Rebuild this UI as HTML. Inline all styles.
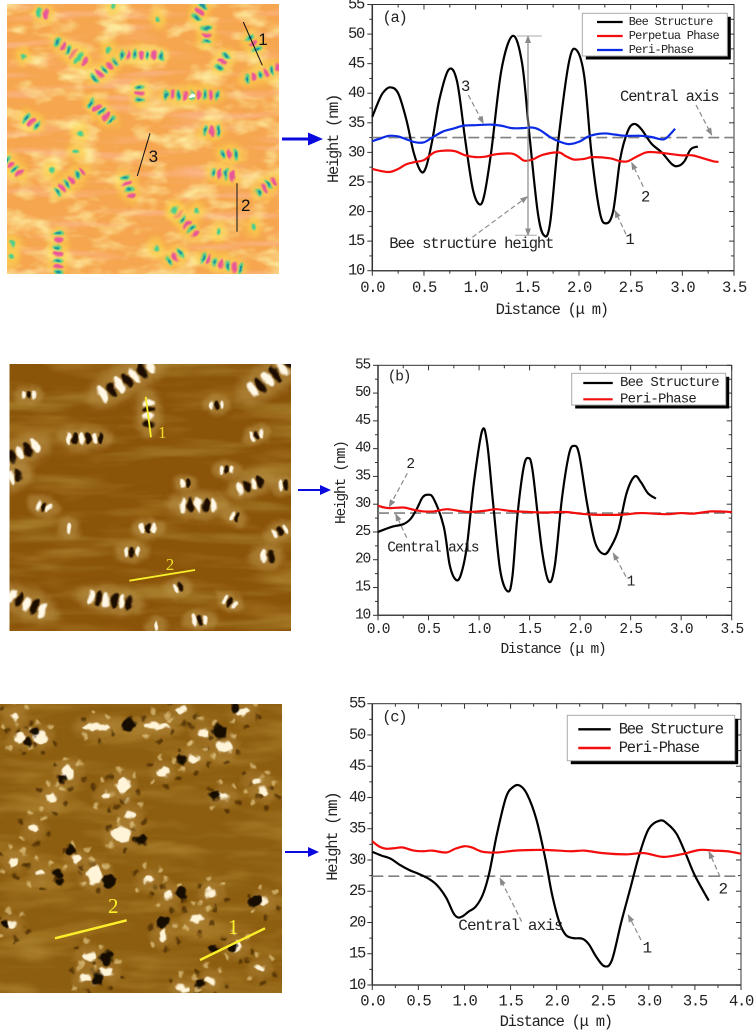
<!DOCTYPE html>
<html lang="en">
<head>
<meta charset="utf-8">
<title>Bee structure AFM images and height profiles</title>
<style>
html,body{margin:0;padding:0;background:#fff;}
svg{display:block;}
text{font-family:"Liberation Mono","Noto Sans CJK SC",monospace;fill:#222;}
</style>
</head>
<body>
<svg id="figure" xmlns="http://www.w3.org/2000/svg" width="754" height="1032" viewBox="0 0 754 1032">
<defs>
<filter id="texYellow" x="0" y="0" width="100%" height="100%"><feTurbulence type="fractalNoise" baseFrequency="0.03 0.06" numOctaves="3" seed="4"/><feColorMatrix values="0 0 0 0 .98  0 0 0 0 .8  0 0 0 0 .32  3 0 0 0 -1.4"/></filter>
<filter id="texPink" x="0" y="0" width="100%" height="100%"><feTurbulence type="fractalNoise" baseFrequency="0.012 0.1" numOctaves="2" seed="11"/><feColorMatrix values="0 0 0 0 .98  0 0 0 0 .5  0 0 0 0 .36  2.6 0 0 0 -1.3"/></filter>
<filter id="texDark" x="0" y="0" width="100%" height="100%"><feTurbulence type="fractalNoise" baseFrequency="0.008 0.06" numOctaves="3" seed="7"/><feColorMatrix values="0 0 0 0 .36  0 0 0 0 .19  0 0 0 0 .02  3.4 0 0 0 -1.65"/></filter>
<filter id="texLight" x="0" y="0" width="100%" height="100%"><feTurbulence type="fractalNoise" baseFrequency="0.012 0.05" numOctaves="3" seed="21"/><feColorMatrix values="0 0 0 0 .72  0 0 0 0 .47  0 0 0 0 .1  3 0 0 0 -1.5"/></filter>
<filter id="warp" x="-5%" y="-5%" width="110%" height="110%" color-interpolation-filters="sRGB"><feTurbulence type="fractalNoise" baseFrequency="0.09" numOctaves="2" seed="3" result="n"/><feDisplacementMap in="SourceGraphic" in2="n" scale="6" xChannelSelector="R" yChannelSelector="G"/></filter>
<filter id="warpHard" x="-5%" y="-5%" width="110%" height="110%" color-interpolation-filters="sRGB"><feTurbulence type="fractalNoise" baseFrequency="0.11" numOctaves="2" seed="9" result="n"/><feDisplacementMap in="SourceGraphic" in2="n" scale="8" xChannelSelector="R" yChannelSelector="G"/></filter>
<filter id="soft" x="-20%" y="-20%" width="140%" height="140%"><feGaussianBlur stdDeviation="0.7"/></filter>
<filter id="halo" x="-40%" y="-40%" width="180%" height="180%"><feGaussianBlur stdDeviation="3"/></filter>
<clipPath id="clipA"><rect x="7" y="4" width="272" height="270"/></clipPath>
<clipPath id="clipB"><rect x="9.5" y="364" width="281.5" height="267"/></clipPath>
<clipPath id="clipC"><rect x="0" y="704" width="282" height="289"/></clipPath>
<marker id="grayHead" markerWidth="8" markerHeight="8" refX="7" refY="3" orient="auto" markerUnits="userSpaceOnUse" viewBox="0 0 8 6"><path d="M0 0L8 3L0 6Z" fill="#8a8a8a"/></marker>
<marker id="grayHeadStart" markerWidth="8" markerHeight="8" refX="1" refY="3" orient="auto" markerUnits="userSpaceOnUse" viewBox="0 0 8 6"><path d="M8 0L0 3L8 6Z" fill="#8a8a8a"/></marker>
</defs>

<g clip-path="url(#clipA)">
  <rect x="7" y="4" width="272" height="270" fill="#f6a64e"/>
  <rect x="7" y="4" width="272" height="270" filter="url(#texPink)" opacity=".7"/>
  <rect x="7" y="4" width="272" height="270" filter="url(#texYellow)"/>
  <g id="imageA" filter="url(#warp)"></g>
</g>
<g clip-path="url(#clipB)">
  <rect x="9.5" y="364" width="281.5" height="267" fill="#8a5409"/>
  <rect x="9.5" y="364" width="281.5" height="267" filter="url(#texDark)" opacity=".8"/>
  <rect x="9.5" y="364" width="281.5" height="267" filter="url(#texLight)" opacity=".22"/>
  <g id="imageB" filter="url(#warp)"></g>
</g>
<g clip-path="url(#clipC)">
  <rect x="0" y="704" width="282" height="289" fill="#8d5e10"/>
  <rect x="0" y="704" width="282" height="289" filter="url(#texDark)" opacity=".6"/>
  <rect x="0" y="704" width="282" height="289" filter="url(#texLight)" opacity=".3"/>
  <g id="imageC" filter="url(#warpHard)"></g>
</g>
<g id="imageOverlay">
  <line x1="243.3" y1="22" x2="262.3" y2="65.3" stroke="#111" stroke-width="1"/>
  <line x1="237" y1="183.3" x2="237" y2="231.7" stroke="#111" stroke-width="1"/>
  <line x1="150" y1="133.3" x2="137.3" y2="176" stroke="#111" stroke-width="1"/>
  <text x="263" y="45" text-anchor="middle" style='font-family:"Liberation Sans",sans-serif;font-size:17px;fill:#111'>1</text>
  <text x="245.7" y="211" text-anchor="middle" style='font-family:"Liberation Sans",sans-serif;font-size:17px;fill:#111'>2</text>
  <text x="153.3" y="162" text-anchor="middle" style='font-family:"Liberation Sans",sans-serif;font-size:17px;fill:#111'>3</text>
  <line x1="145.7" y1="396.7" x2="151" y2="437.3" stroke="#f7ee2a" stroke-width="1.8"/>
  <line x1="129.3" y1="580.7" x2="195" y2="570" stroke="#f7ee2a" stroke-width="1.8"/>
  <text x="162.3" y="438" text-anchor="middle" style='font-family:"Liberation Serif",serif;font-size:17px;fill:#eedd2a'>1</text>
  <text x="170" y="570" text-anchor="middle" style='font-family:"Liberation Serif",serif;font-size:17px;fill:#eedd2a'>2</text>
  <line x1="200" y1="960" x2="265" y2="928.3" stroke="#fdf02a" stroke-width="2.4"/>
  <line x1="55" y1="938.3" x2="126.7" y2="920.3" stroke="#fdf02a" stroke-width="2.4"/>
  <text x="233.3" y="934" text-anchor="middle" style='font-family:"Liberation Serif",serif;font-size:21px;fill:#fdf02a'>1</text>
  <text x="113.3" y="913" text-anchor="middle" style='font-family:"Liberation Serif",serif;font-size:21px;fill:#fdf02a'>2</text>
</g>

<g id="linkArrows">
  <path d="M282 137.5H308V132.5L323 139L308 145.5V140.5H282Z" fill="#0a0adf"/>
  <path d="M298 489H320V485L331 490L320 495V491H298Z" fill="#0a0adf"/>
  <path d="M285 851H308V847L319 852L308 857V853H285Z" fill="#0a0adf"/>
</g>

<g id="chartA"></g>
<g id="chartB"></g>
<g id="chartC"></g>
</svg>

<script>
/* ---------- chart data ---------- */
const yTickValues = [10, 15, 20, 25, 30, 35, 40, 45, 50, 55];
const xTickValues35 = [0, 0.5, 1, 1.5, 2, 2.5, 3, 3.5];
const xTickValues40 = [0, 0.5, 1, 1.5, 2, 2.5, 3, 3.5, 4];

const beeDistA = [0,0.05,0.1,0.17,0.25,0.33,0.4,0.47,0.52,0.58,0.65,0.74,0.82,0.9,0.97,1.03,1.08,1.15,1.25,1.36,1.45,1.52,1.6,1.66,1.72,1.8,1.9,1.97,2.05,2.12,2.2,2.26,2.33,2.4,2.47,2.53,2.6,2.7,2.8,2.9,2.96,3.02,3.08,3.15];
const beeHeightA = [36,38.2,40,41,40,35.5,30,26.8,27.5,32,39,44,42,32,24,21.3,22.5,30,44,49.7,45,33,20,16,18,32,45,47.4,43,30,20,18,20,29,33.5,34.8,34,31.5,30,28,27.7,28.5,30.5,31];
const perpDistA = [0,0.1,0.17,0.25,0.33,0.42,0.5,0.6,0.7,0.8,0.9,1,1.1,1.2,1.35,1.42,1.47,1.55,1.65,1.8,1.87,1.95,2.05,2.13,2.3,2.4,2.47,2.55,2.65,2.75,2.9,3,3.1,3.2,3.3,3.35];
const perpHeightA = [27.2,26.8,26.7,27.2,28,28.4,28.7,30,30.3,30.2,29.5,29.2,29.3,29.7,29.8,29.2,28.6,28.8,29.6,30,29.4,28.8,28.9,29.2,29,28.5,28.5,29.2,30,30,29.7,29.5,29.5,29,28.5,28.4];
const periDistA = [0,0.07,0.16,0.25,0.33,0.42,0.5,0.58,0.68,0.78,0.88,1,1.15,1.25,1.35,1.45,1.55,1.62,1.72,1.8,1.9,2,2.08,2.15,2.25,2.35,2.45,2.6,2.7,2.8,2.85,2.93];
const periHeightA = [31.9,32.3,32.8,32.7,32.2,31.7,31.7,32.5,33.5,34,34.5,34.6,34.7,34.5,34.1,34.1,34.2,33.8,32.6,31.9,31.4,31.8,32.6,33,33.2,33,32.8,32.8,32.6,32.2,32.5,34];
const centralA = [32.5];

const beeDistB = [0,0.07,0.15,0.25,0.32,0.38,0.44,0.49,0.55,0.65,0.71,0.77,0.82,0.88,0.95,1.03,1.08,1.14,1.21,1.285,1.33,1.38,1.44,1.485,1.53,1.62,1.69,1.75,1.82,1.89,1.94,1.99,2.07,2.15,2.24,2.31,2.38,2.46,2.54,2.6,2.67,2.75];
const beeHeightB = [25,25.5,26,26.4,27.3,29,31.2,31.7,31,26,19,16.4,17.3,22.5,34,43.2,41,30,18,14.3,17,28,36.5,38.3,36,22,16.1,19,31,39,40.5,39,30,23,21,22.5,25.5,32,35,34,32,31];
const periDistB = [0,0.1,0.25,0.35,0.45,0.55,0.68,0.8,0.9,1.05,1.17,1.3,1.5,1.65,1.85,2,2.15,2.4,2.6,2.85,3,3.12,3.3,3.5];
const periHeightB = [29.7,29.3,29.4,29,28.7,28.7,29.1,28.8,28.6,28.8,29.1,28.8,28.6,28.5,28.6,28.3,28.1,28.1,28.4,28.2,28.4,28.3,28.7,28.6];
const centralB = [28.4];

const beeDistC = [0,0.1,0.2,0.3,0.4,0.5,0.6,0.7,0.8,0.88,0.93,0.98,1.05,1.12,1.2,1.27,1.35,1.45,1.53,1.6,1.68,1.78,1.88,1.95,2.03,2.1,2.18,2.28,2.35,2.43,2.52,2.6,2.7,2.8,2.9,3,3.12,3.2,3.3,3.4,3.5,3.65];
const beeHeightC = [31.3,30.7,30.2,29.2,28.4,27.8,27.1,26,24,21.5,20.8,21,21.8,22.5,24.5,28,34,40,41.7,41.9,40.5,36.5,30,24.5,20,18,17.5,17.4,16.5,14.5,13,14,20,25.5,31,35,36.3,35.8,34.2,31,27.5,23.5];
const periDistC = [0,0.07,0.15,0.25,0.33,0.45,0.55,0.65,0.8,0.9,1,1.08,1.2,1.35,1.55,1.75,1.9,2.15,2.3,2.5,2.75,2.95,3.15,3.35,3.55,3.7,3.85,4];
const periHeightC = [33,32.2,31.8,31.9,32,31.5,31.4,31.5,31.2,31.8,32.2,32,31.3,31.2,31.5,31.6,31.6,31.4,31.5,31.1,30.9,31.1,30.5,30.9,31.6,31.5,31.4,31];
const centralC = [27.4];

/* ---------- image blob content (not chart data) ---------- */
const clustersA = [[600,35,-65,3],[620,105,90,3],[760,130,60,3],[670,185,-60,3],[790,220,-20,6],[130,40,0,2],[205,150,35,5],[245,180,30,2],[315,210,-40,5],[425,165,0,7],[325,148,0,1],[420,280,90,3],[575,285,0,9],[305,335,40,5],[95,365,30,3],[635,393,0,3],[690,462,0,3],[228,455,90,1],[40,500,50,4],[210,545,-40,6],[385,560,70,4],[670,522,10,4],[800,560,-40,4],[555,665,50,6],[760,680,0,1],[175,760,90,7],[525,770,-35,3],[665,790,15,7],[40,730,0,1],[470,745,0,1],[35,770,0,1],[155,510,0,1],[655,695,0,1],[240,400,0,1],[70,170,0,1],[590,630,0,1],[525,630,0,1],[475,55,0,1],[340,18,0,1]];
const clustersB = [[380,75,-30,7,1.3],[815,65,-35,6,1.3],[85,120,0,3,.7],[445,175,90,4,1],[650,150,0,3,.7],[255,250,0,6,.9],[770,240,-20,3,.7],[60,295,-25,5,1.2],[45,365,-20,2,1],[680,345,0,3,.7],[555,385,0,2,.7],[750,390,-20,4,1],[850,390,0,2,.8],[595,450,0,5,1.1],[130,455,20,3,.8],[205,520,0,1,.8],[445,520,0,3,.8],[705,485,20,2,.7],[840,530,-20,3,.8],[395,590,0,3,.8],[800,605,0,2,1],[80,745,25,5,1.2],[330,735,10,6,1.1],[535,700,-15,2,.8],[690,740,30,3,.7],[600,795,0,3,.8],[470,815,0,1,.8]];
const darkDotsC = [[385,90,7],[660,110,7],[545,195,5],[105,110,4],[85,140,4],[185,250,4],[645,300,5],[425,435,6],[210,463,5],[170,535,5],[180,560,4],[325,560,6],[545,595,6],[765,618,6],[490,682,6],[320,790,7],[295,850,6],[600,865,5],[705,40,5],[15,690,4],[700,755,4],[640,760,4]];
const lightBlobsC = [[290,95,17,5],[470,92,17,4],[545,45,6,4],[730,50,8,5],[610,115,7,5],[670,155,10,8],[580,190,7,6],[205,235,8,9],[120,125,8,8],[60,130,6,6],[370,270,7,9],[155,310,6,7],[390,360,6,6],[365,420,13,9],[230,490,6,5],[285,540,10,11],[505,600,6,6],[635,595,6,7],[790,290,6,5],[670,305,7,4],[790,620,6,5],[590,670,7,6],[490,720,6,7],[35,690,6,5],[270,785,9,5],[255,850,7,5],[320,830,8,5],[780,820,6,4],[710,755,6,6],[45,65,5,4],[490,230,7,5],[770,260,7,4],[320,300,6,4],[100,400,6,5],[40,500,6,5],[120,535,6,4],[445,555,6,4],[550,880,8,4],[630,855,6,5]];
const speckleOffsets = [[-13,-8,1],[11,-10,0],[15,6,1],[-11,10,0],[3,15,1],[-3,-15,0]];

const SVGNS = 'http://www.w3.org/2000/svg';

function mk(tag, parent) {
  const el = document.createElementNS(SVGNS, tag);
  parent.appendChild(el);
  return el;
}

/* ---------- image painting ---------- */
function paintClusterA(parent, c) {
  const cx = 7 + (c[0] - 22) / 3, cy = c[1] / 3;
  const g = mk('g', parent);
  
  
  g.setAttribute('transform', 'translate(' + cx + ' ' + cy + ') rotate(' + c[2] + ')');
  const sp = 6.5, n = c[3];
  const halo = mk('ellipse', g);
  halo.setAttribute('rx', n * sp / 2 + 5);
  halo.setAttribute('ry', 10);
  halo.setAttribute('fill', '#fbd34c');
  halo.setAttribute('opacity', '.7');
  halo.setAttribute('filter', 'url(#halo)');
  for (let i = 0; i < n; i++) {
    const st = mk('ellipse', g);
    st.setAttribute('cx', (i - (n - 1) / 2) * sp);
    st.setAttribute('rx', 2.3);
    st.setAttribute('ry', n > 1 ? 5.2 : 3.2);
    st.setAttribute('fill', i % 2 ? '#e8559a' : '#45cf90');
    st.setAttribute('filter', 'url(#soft)');
    if (i % 2 === 0 && n > 2) {
      const core = mk('ellipse', g);
      core.setAttribute('cx', (i - (n - 1) / 2) * sp);
      core.setAttribute('rx', 1.1);
      core.setAttribute('ry', 2.6);
      core.setAttribute('fill', '#2590a0');
    }
  }
  if (n === 9) {
    const w = mk('circle', g);
    w.setAttribute('r', 2.5);
    w.setAttribute('fill', '#fff');
  }
}

function paintClusterB(parent, c) {
  const cx = c[0] / 3, cy = 355 + c[1] / 3, sc = c[4];
  const g = mk('g', parent);
  
  
  g.setAttribute('transform', 'translate(' + cx + ' ' + cy + ') rotate(' + c[2] + ') scale(' + sc + ')');
  const sp = 7, n = c[3];
  const halo = mk('ellipse', g);
  halo.setAttribute('rx', n * sp / 2 + 11);
  halo.setAttribute('ry', 13);
  halo.setAttribute('fill', '#b8924a');
  halo.setAttribute('opacity', '.6');
  halo.setAttribute('filter', 'url(#halo)');
  for (let i = 0; i < n; i++) {
    const st = mk('ellipse', g);
    st.setAttribute('cx', (i - (n - 1) / 2) * sp);
    st.setAttribute('rx', 3);
    st.setAttribute('ry', 6.5);
    st.setAttribute('fill', i % 2 ? '#1c0f00' : '#fff8e6');
    st.setAttribute('filter', 'url(#soft)');
  }
}

function paintImageC(parent) {
  lightBlobsC.forEach(function (b) {
    const halo = mk('ellipse', parent);
    
    
    halo.setAttribute('cx', b[0] / 3);
    halo.setAttribute('cy', 695 + b[1] / 3);
    halo.setAttribute('rx', b[2] + 7);
    halo.setAttribute('ry', b[3] + 7);
    halo.setAttribute('fill', '#ad8238');
    halo.setAttribute('opacity', '.5');
    halo.setAttribute('filter', 'url(#halo)');
    speckleOffsets.forEach(function (o) {
      const sp = mk('circle', parent);
      
      
      sp.setAttribute('cx', b[0] / 3 + o[0]);
      sp.setAttribute('cy', 695 + b[1] / 3 + o[1]);
      sp.setAttribute('r', 2.6);
      sp.setAttribute('fill', o[2] ? '#3c2204' : '#e8cf90');
      sp.setAttribute('opacity', '.65');
      sp.setAttribute('filter', 'url(#soft)');
    });
  });
  lightBlobsC.forEach(function (b) {
    const el = mk('ellipse', parent);
    
    
    el.setAttribute('cx', b[0] / 3);
    el.setAttribute('cy', 695 + b[1] / 3);
    el.setAttribute('rx', b[2] * 0.8);
    el.setAttribute('ry', b[3] * 0.8);
    el.setAttribute('fill', '#fff4d8');
    el.setAttribute('filter', 'url(#soft)');
  });
  darkDotsC.forEach(function (d) {
    const el = mk('circle', parent);
    
    
    el.setAttribute('cx', d[0] / 3);
    el.setAttribute('cy', 695 + d[1] / 3);
    el.setAttribute('r', d[2]);
    el.setAttribute('fill', '#140a00');
    el.setAttribute('filter', 'url(#soft)');
  });
}

clustersA.forEach(function (c) { paintClusterA(document.getElementById('imageA'), c); });
clustersB.forEach(function (c) { paintClusterB(document.getElementById('imageB'), c); });
paintImageC(document.getElementById('imageC'));

/* ---------- chart drawing ---------- */
function smoothPath(xs, ys) {
  let d = 'M' + xs[0].toFixed(2) + ' ' + ys[0].toFixed(2);
  for (let i = 0; i < xs.length - 1; i++) {
    const i0 = Math.max(i - 1, 0), i3 = Math.min(i + 2, xs.length - 1);
    const c1x = xs[i] + (xs[i + 1] - xs[i0]) / 6;
    const c1y = ys[i] + (ys[i + 1] - ys[i0]) / 6;
    const c2x = xs[i + 1] - (xs[i3] - xs[i]) / 6;
    const c2y = ys[i + 1] - (ys[i3] - ys[i]) / 6;
    d += 'C' + c1x.toFixed(2) + ' ' + c1y.toFixed(2) + ' ' + c2x.toFixed(2) + ' ' + c2y.toFixed(2) + ' ' + xs[i + 1].toFixed(2) + ' ' + ys[i + 1].toFixed(2);
  }
  return d;
}

function addText(parent, str, x, y, size, spacing, anchor, name) {
  const t = mk('text', parent);
  
  
  t.setAttribute('x', x);
  t.setAttribute('y', y);
  t.setAttribute('font-size', size);
  t.setAttribute('letter-spacing', spacing);
  t.setAttribute('text-anchor', anchor);
  t.setAttribute('dominant-baseline', 'central');
  t.textContent = str;
  return t;
}

function drawAxes(g, f, xTicks, xMax, X, Y) {
  const frame = mk('rect', g);
  
  
  frame.setAttribute('x', f.l);
  frame.setAttribute('y', f.t);
  frame.setAttribute('width', f.r - f.l);
  frame.setAttribute('height', f.b - f.t);
  frame.setAttribute('fill', 'none');
  frame.setAttribute('stroke', '#333');
  frame.setAttribute('stroke-width', '1');

  const leftAxis = mk('line', g);
  
  
  leftAxis.setAttribute('x1', f.l);
  leftAxis.setAttribute('x2', f.l);
  leftAxis.setAttribute('y1', f.t);
  leftAxis.setAttribute('y2', f.b);
  leftAxis.setAttribute('stroke', '#333');
  leftAxis.setAttribute('stroke-width', '1.5');

  const bottomAxis = mk('line', g);
  
  
  bottomAxis.setAttribute('x1', f.l);
  bottomAxis.setAttribute('x2', f.r);
  bottomAxis.setAttribute('y1', f.b);
  bottomAxis.setAttribute('y2', f.b);
  bottomAxis.setAttribute('stroke', '#444');
  bottomAxis.setAttribute('stroke-width', '1.5');

  function tick(x1, y1, x2, y2, name) {
    const l = mk('line', g);
    
    
    l.setAttribute('x1', x1);
    l.setAttribute('y1', y1);
    l.setAttribute('x2', x2);
    l.setAttribute('y2', y2);
    l.setAttribute('stroke', '#333');
    l.setAttribute('stroke-width', '1');
  }

  yTickValues.forEach(function (v, i) {
    const py = Y(v);
    tick(f.l - 5, py, f.l, py, 'y-tick');
    tick(f.r - 5, py, f.r, py, 'y-tick-mirror');
    addText(g, String(v), f.yLabelX, py, f.fs, f.ls, 'end', 'y-tick-label');
    if (i < yTickValues.length - 1) {
      const my = Y((v + yTickValues[i + 1]) / 2);
      tick(f.l - 3, my, f.l, my, 'y-minor-tick');
      tick(f.r - 3, my, f.r, my, 'y-minor-tick-mirror');
    }
  });
  xTicks.forEach(function (v, i) {
    const px = X(v);
    tick(px, f.b, px, f.b + 5, 'x-tick');
    tick(px, f.t, px, f.t + 5, 'x-tick-mirror');
    addText(g, v.toFixed(1), px, f.xLabelY, f.fs, f.ls, 'middle', 'x-tick-label');
    if (i < xTicks.length - 1) {
      const mx = X((v + xTicks[i + 1]) / 2);
      tick(mx, f.b, mx, f.b + 3, 'x-minor-tick');
      tick(mx, f.t, mx, f.t + 3, 'x-minor-tick-mirror');
    }
  });
  addText(g, 'Distance (\u03bc m)', f.xTitleX, f.xTitleY, f.fs, f.ls, 'middle', 'x-axis-title');
  const yt = addText(g, 'Height (nm)', 0, 0, f.fs, f.ls, 'middle', 'y-axis-title');
  yt.setAttribute('transform', 'translate(' + f.yTitleX + ' ' + f.yTitleY + ') rotate(-90)');
}

function drawSeries(g, dist, height, color, width, X, Y, name) {
  const p = mk('path', g);
  
  
  p.setAttribute('d', smoothPath(dist.map(X), height.map(Y)));
  p.setAttribute('fill', 'none');
  p.setAttribute('stroke', color);
  p.setAttribute('stroke-width', width);
  p.setAttribute('stroke-linejoin', 'round');
}

function drawCentral(g, value, f, Y, name) {
  const l = mk('line', g);
  
  
  l.setAttribute('x1', f.l);
  l.setAttribute('x2', f.r);
  l.setAttribute('y1', Y(value));
  l.setAttribute('y2', Y(value));
  l.setAttribute('stroke', '#808080');
  l.setAttribute('stroke-width', '1.6');
  l.setAttribute('stroke-dasharray', '11 5');
}

function drawLegend(g, box, entries) {
  const shadow = mk('rect', g);
  
  
  shadow.setAttribute('x', box.x + 3.5);
  shadow.setAttribute('y', box.y + 3.5);
  shadow.setAttribute('width', box.w);
  shadow.setAttribute('height', box.h);
  shadow.setAttribute('fill', '#000');

  const frame = mk('rect', g);
  
  
  frame.setAttribute('x', box.x);
  frame.setAttribute('y', box.y);
  frame.setAttribute('width', box.w);
  frame.setAttribute('height', box.h);
  frame.setAttribute('fill', '#fff');
  frame.setAttribute('stroke', '#aaa');
  frame.setAttribute('stroke-width', '1');

  entries.forEach(function (e, i) {
    const cy = box.firstY + i * box.stepY;
    const sw = mk('line', g);
    
    
    sw.setAttribute('x1', box.lineX1);
    sw.setAttribute('x2', box.lineX2);
    sw.setAttribute('y1', cy);
    sw.setAttribute('y2', cy);
    sw.setAttribute('stroke', e[1]);
    sw.setAttribute('stroke-width', box.lw);
    addText(g, e[0], box.textX, cy, box.fs, box.ls, 'start', 'legend-entry');
  });
}

function drawArrow(g, x1, y1, x2, y2, name) {
  const l = mk('line', g);
  
  
  l.setAttribute('x1', x1);
  l.setAttribute('y1', y1);
  l.setAttribute('x2', x2);
  l.setAttribute('y2', y2);
  l.setAttribute('stroke', '#8a8a8a');
  l.setAttribute('stroke-width', '1.2');
  l.setAttribute('stroke-dasharray', '5 3');
  l.setAttribute('marker-end', 'url(#grayHead)');
}

function scales(f, xMax) {
  return {
    X: function (d) { return f.l + (d / xMax) * (f.r - f.l); },
    Y: function (v) { return f.b - ((v - 10) / 45) * (f.b - f.t); }
  };
}

/* Panel (a) */
(function () {
  const g = document.getElementById('chartA');
  const f = { l: 372.3, r: 734, t: 4.5, b: 270.7, fs: 15.5, ls: -1.3, yLabelX: 364, xLabelY: 288, xTitleX: 551.7, xTitleY: 310, yTitleX: 334, yTitleY: 139 };
  const s = scales(f, 3.5);
  drawAxes(g, f, xTickValues35, 3.5, s.X, s.Y);
  drawCentral(g, centralA[0], f, s.Y, 'central-axis-line');
  drawSeries(g, beeDistA, beeHeightA, '#000', 2.2, s.X, s.Y, 'series-bee-structure');
  drawSeries(g, perpDistA, perpHeightA, '#f40d0d', 2.2, s.X, s.Y, 'series-perpetua-phase');
  drawSeries(g, periDistA, periHeightA, '#0a2ae6', 2.2, s.X, s.Y, 'series-peri-phase');
  drawLegend(g, { x: 582.3, y: 13.3, w: 145, h: 42.7, firstY: 22, stepY: 14, lineX1: 597, lineX2: 622.7, textX: 628.7, fs: 12, ls: -0.75, lw: 2.2 },
    [['Bee Structure', '#000'], ['Perpetua Phase', '#f40d0d'], ['Peri-Phase', '#0a2ae6']]);
  addText(g, '(a)', 382.5, 18, 15.5, -1.3, 'start', 'panel-label-a');
  addText(g, '3', 465.7, 87, 15.5, 0, 'middle', 'annotation-3');
  addText(g, 'Central axis', 620, 97, 15.5, -1.1, 'start', 'annotation-central-axis');
  addText(g, '2', 645.7, 197.7, 15.5, 0, 'middle', 'annotation-2');
  addText(g, '1', 630, 240, 15.5, 0, 'middle', 'annotation-1');
  addText(g, 'Bee structure height', 389.3, 244, 15.5, -1.1, 'start', 'annotation-bee-height');
  drawArrow(g, 468.3, 95, 483.3, 123.3, 'arrow-3');
  drawArrow(g, 696, 105, 711.7, 135, 'arrow-central-axis');
  drawArrow(g, 643.3, 186.7, 631.7, 162.7, 'arrow-2');
  drawArrow(g, 626, 234.3, 615, 210.7, 'arrow-1');
  drawArrow(g, 472.3, 237.3, 527.3, 196.7, 'arrow-bee-height');
  const dim = mk('line', g);
  
  
  dim.setAttribute('x1', 528);
  dim.setAttribute('x2', 528);
  dim.setAttribute('y1', 36);
  dim.setAttribute('y2', 235.3);
  dim.setAttribute('stroke', '#8a8a8a');
  dim.setAttribute('stroke-width', '1.2');
  dim.setAttribute('marker-start', 'url(#grayHeadStart)');
  dim.setAttribute('marker-end', 'url(#grayHead)');
  const capTop = mk('line', g);
  
  
  capTop.setAttribute('x1', 516.7);
  capTop.setAttribute('x2', 541.7);
  capTop.setAttribute('y1', 36);
  capTop.setAttribute('y2', 36);
  capTop.setAttribute('stroke', '#aaa');
  const capBottom = mk('line', g);
  
  
  capBottom.setAttribute('x1', 515);
  capBottom.setAttribute('x2', 536.7);
  capBottom.setAttribute('y1', 235.3);
  capBottom.setAttribute('y2', 235.3);
  capBottom.setAttribute('stroke', '#aaa');
})();

/* Panel (b) */
(function () {
  const g = document.getElementById('chartB');
  const f = { l: 378, r: 731.7, t: 365.3, b: 615.3, fs: 14.5, ls: -1.2, yLabelX: 370, xLabelY: 630, xTitleX: 553, xTitleY: 650, yTitleX: 342, yTitleY: 482.7 };
  const s = scales(f, 3.5);
  drawAxes(g, f, xTickValues35, 3.5, s.X, s.Y);
  drawCentral(g, centralB[0], f, s.Y, 'central-axis-line');
  drawSeries(g, beeDistB, beeHeightB, '#000', 2.2, s.X, s.Y, 'series-bee-structure');
  drawSeries(g, periDistB, periHeightB, '#f40d0d', 2.2, s.X, s.Y, 'series-peri-phase');
  drawLegend(g, { x: 571.7, y: 373.3, w: 154, h: 31.7, firstY: 383, stepY: 16.3, lineX1: 583.3, lineX2: 612.7, textX: 620, fs: 14, ls: -0.8, lw: 2.2 },
    [['Bee Structure', '#000'], ['Peri-Phase', '#f40d0d']]);
  addText(g, '(b)', 387.7, 377.7, 14.5, -1.2, 'start', 'panel-label-b');
  addText(g, '2', 410.7, 465, 14.5, 0, 'middle', 'annotation-2');
  addText(g, 'Central axis', 387.3, 548.3, 14.5, -1.1, 'start', 'annotation-central-axis');
  addText(g, '1', 631, 582.3, 14.5, 0, 'middle', 'annotation-1');
  drawArrow(g, 407.3, 473.3, 389.3, 506.7, 'arrow-2');
  drawArrow(g, 406.7, 537.7, 395.7, 514, 'arrow-central-axis');
  drawArrow(g, 626, 576.7, 613.3, 553.3, 'arrow-1');
})();

/* Panel (c) */
(function () {
  const g = document.getElementById('chartC');
  const f = { l: 372.3, r: 741, t: 703.7, b: 985, fs: 15.5, ls: -1.3, yLabelX: 365, xLabelY: 1001.7, xTitleX: 555.7, xTitleY: 1022, yTitleX: 333, yTitleY: 836.7 };
  const s = scales(f, 4);
  drawAxes(g, f, xTickValues40, 4, s.X, s.Y);
  drawCentral(g, centralC[0], f, s.Y, 'central-axis-line');
  drawSeries(g, beeDistC, beeHeightC, '#000', 2.2, s.X, s.Y, 'series-bee-structure');
  drawSeries(g, periDistC, periHeightC, '#f40d0d', 2.2, s.X, s.Y, 'series-peri-phase');
  drawLegend(g, { x: 567.3, y: 715.3, w: 167.4, h: 45.4, firstY: 729.3, stepY: 18.7, lineX1: 578.3, lineX2: 610.7, textX: 618.7, fs: 15.5, ls: -1.3, lw: 2.4 },
    [['Bee Structure', '#000'], ['Peri-Phase', '#f40d0d']]);
  addText(g, '(c)', 382.3, 717.3, 15.5, -1.3, 'start', 'panel-label-c');
  addText(g, 'Central axis', 458.3, 926, 16, -0.9, 'start', 'annotation-central-axis');
  addText(g, '1', 647.3, 948.3, 16, 0, 'middle', 'annotation-1');
  addText(g, '2', 723.3, 889.3, 16, 0, 'middle', 'annotation-2');
  drawArrow(g, 521.7, 921.7, 500, 878.3, 'arrow-central-axis');
  drawArrow(g, 641, 940, 628.3, 915, 'arrow-1');
  drawArrow(g, 720, 876.7, 709, 851.7, 'arrow-2');
})();
</script>
</body>
</html>
